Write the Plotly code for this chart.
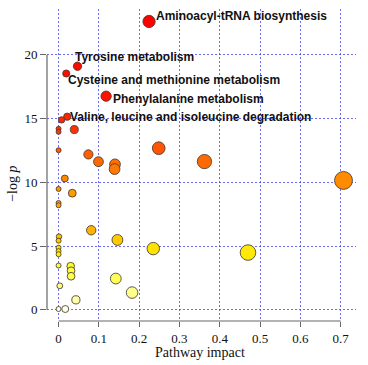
import plotly.graph_objects as go
import numpy as np

# ---- data ----
impact = [0.2245, 0.047, 0.019, 0.118, 0.0215, 0.0075, 0.0, 0.0, 0.039, 0.0,
          0.2485, 0.074, 0.099, 0.140, 0.139, 0.362, 0.707, 0.0155, 0.0, 0.034,
          0.0, 0.0, 0.081, 0.146, 0.235, 0.001, 0.0, 0.0, 0.0, 0.0,
          0.0, 0.030, 0.031, 0.031, 0.003, 0.142, 0.1824, 0.043, 0.0, 0.0166,
          0.470]
neglogp = [22.62, 19.11, 18.54, 16.76, 15.15, 14.90, 14.20, 13.96, 14.14, 12.52,
           12.68, 12.19, 11.62, 11.41, 11.04, 11.63, 10.15, 10.30, 9.48, 9.15,
           8.38, 8.20, 6.24, 5.48, 4.80, 5.74, 5.42, 4.87, 4.60, 4.36,
           3.47, 3.42, 3.06, 2.63, 1.88, 2.45, 1.35, 0.78, 0.06, 0.06,
           4.49]
label_names = ["Aminoacyl-tRNA biosynthesis", "Tyrosine metabolism",
               "Cysteine and methionine metabolism", "Phenylalanine metabolism",
               "Valine, leucine and isoleucine degradation"]
label_index = [0, 1, 2, 3, 4]
x_ticks = [0, 0.1, 0.2, 0.3, 0.4, 0.5, 0.6, 0.7]
y_ticks = [0, 5, 10, 15, 20]

# ---- styling ----
sizes = [5 + 15.4 * np.sqrt(v) for v in impact]
heat = [[0.0, "#FFFFF4"], [0.035, "#FFFFA8"], [0.07, "#FFFF80"], [0.15, "#FFFF30"],
        [0.21, "#FFE400"], [0.27, "#FFB400"], [0.40, "#FF9C00"], [0.45, "#FF8C00"],
        [0.51, "#FF6C00"], [0.56, "#FF5500"], [0.63, "#FF3000"], [0.72, "#FF1200"],
        [1.0, "#FF0000"]]

fig = go.Figure()
fig.add_trace(go.Scatter(
    x=impact, y=neglogp, mode="markers",
    marker=dict(size=sizes, color=neglogp, colorscale=heat, cmin=0, cmax=max(neglogp),
                line=dict(color="rgba(70,60,50,0.85)", width=1), opacity=1),
    hoverinfo="skip", showlegend=False))

offsets = [(6, 5), (-4, 9), (1, -7), (6, -3), (2, 0)]
for (i, name), (dx, dy) in zip(zip(label_index, label_names), offsets):
    fig.add_annotation(x=impact[i], y=neglogp[i], text="<b>" + name + "</b>",
                       showarrow=False, xanchor="left", yanchor="middle",
                       xshift=dx, yshift=dy, borderpad=0,
                       font=dict(family="Liberation Sans, Arial", size=12, color="#111"))

grid = "rgba(70,70,255,0.8)"
axcol = "#666666"
tickfont = dict(family="Liberation Serif, Times New Roman", size=13, color="#111")
fig.update_xaxes(range=[-0.0287, 0.738], tickvals=x_ticks,
                 ticktext=["0", "0.1", "0.2", "0.3", "0.4", "0.5", "0.6", "0.7"],
                 showgrid=True, gridcolor=grid, griddash="2px,2px", gridwidth=1,
                 zeroline=False, showline=False, ticks="outside", ticklen=5,
                 tickcolor=axcol, tickfont=tickfont)
fig.update_yaxes(range=[-0.88, 23.6], tickvals=y_ticks,
                 showgrid=True, gridcolor=grid, griddash="2px,2px", gridwidth=1,
                 zeroline=False, showline=False, ticks="outside", ticklen=6,
                 tickcolor=axcol, tickfont=tickfont)

# axis lines spanning the tick range only
fig.add_shape(type="line", xref="x", yref="paper", x0=x_ticks[0], x1=x_ticks[-1],
              y0=0, y1=0, line=dict(color=axcol, width=1.2))
fig.add_shape(type="line", xref="paper", yref="y", x0=0, x1=0,
              y0=y_ticks[0], y1=y_ticks[-1], line=dict(color=axcol, width=1.2))

fig.add_annotation(xref="paper", yref="paper", x=0.495, y=-0.100, text="Pathway impact",
                   showarrow=False, xanchor="center", yanchor="middle",
                   font=dict(family="Liberation Serif, Times New Roman", size=14, color="#111"))
fig.add_annotation(xref="paper", yref="paper", x=-0.112, y=0.441, text="\u2212log <i>p</i>",
                   showarrow=False, xanchor="center", yanchor="middle", textangle=-90,
                   font=dict(family="Liberation Serif, Times New Roman", size=14, color="#111"))

fig.update_layout(width=368, height=365,
                  margin=dict(l=47, r=11.5, t=9, b=44.3),
                  paper_bgcolor="white", plot_bgcolor="white")
fig.write_html("out.html", config={"displayModeBar": False},
               post_script="document.body.style.margin='0';document.body.style.padding='0';")
